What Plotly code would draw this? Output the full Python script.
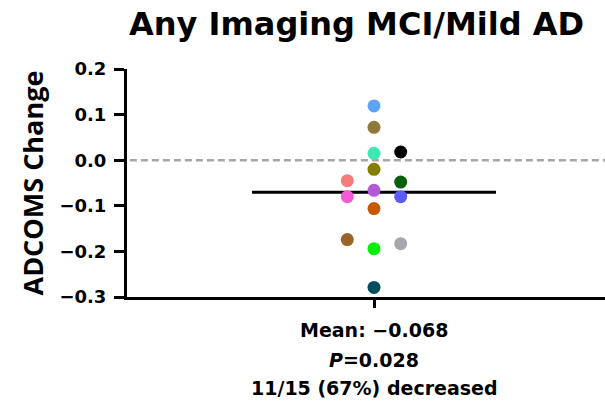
import numpy as np
import plotly.graph_objects as go

# ---------------- data ----------------
values = [0.119, 0.072, 0.015, 0.018, -0.020, -0.048, -0.045, -0.066,
          -0.080, -0.080, -0.106, -0.194, -0.183, -0.174, -0.279]
point_colors = ["#5BA4F8", "#8C7B3C", "#3EE8B2", "#000000", "#857D00",
                "#0A5F0A", "#F57A7A", "#B35BD6", "#5B5BFA", "#F55AD4",
                "#C45A00", "#00F000", "#A7A7AB", "#9A6426", "#004D5E"]
y_ticks = [-0.3, -0.2, -0.1, 0.0, 0.1, 0.2]
title_text = "Any Imaging MCI/Mild AD"
y_title = "ADCOMS Change"
stat_lines = ["Mean: \u22120.068", "<i>P</i>=0.028", "11/15 (67%) decreased"]

# ---------------- layout constants ----------------
W, H = 605, 410
M_L, M_R, M_T, M_B = 127, 0, 69, 113
plot_w = W - M_L - M_R
plot_h = H - M_T - M_B
y_range = [-0.3, 0.2]
px_per_unit = plot_h / (y_range[1] - y_range[0])
MARKER = 13
SLOT_PX = 26.7
CENTER_PX = 374
x_range = [-(CENTER_PX - M_L) / SLOT_PX, (W - M_R - CENTER_PX) / SLOT_PX]
MEAN_HALF = 122 / SLOT_PX

FONT_WIDE = "DejaVu Sans"


def swarm(vals, thresh, order=(0, 1, -1)):
    placed = []
    for v in vals:
        for s in order:
            if all(not (ps == s and abs(pv - v) < thresh) for pv, ps in placed):
                break
        placed.append((v, s))
    return [s for _, s in placed]


slots = swarm(values, (MARKER + 1) / px_per_unit)
mean_val = float(np.mean(values))

fig = go.Figure()

# zero reference line
fig.add_shape(type="line", xref="paper", yref="y", x0=0.006, x1=1, y0=0, y1=0,
              line=dict(color="#A6A6A6", width=2.5, dash="7px,4px"), layer="below")

# mean line
fig.add_trace(go.Scatter(x=[-MEAN_HALF, MEAN_HALF], y=[mean_val, mean_val],
                         mode="lines", line=dict(color="black", width=3),
                         hoverinfo="skip", showlegend=False))

# points
fig.add_trace(go.Scatter(x=slots, y=values, mode="markers",
                         marker=dict(size=MARKER, color=point_colors, line=dict(width=0)),
                         showlegend=False))

fig.update_layout(
    width=W, height=H, autosize=False,
    margin=dict(l=M_L, r=M_R, t=M_T, b=M_B, pad=0),
    paper_bgcolor="white", plot_bgcolor="white",
    showlegend=False,
    xaxis=dict(range=x_range, showgrid=False, zeroline=False,
               showline=True, linecolor="black", linewidth=3,
               tickmode="array", tickvals=[0], ticktext=[""],
               ticks="outside", ticklen=8, tickwidth=2.5, tickcolor="black"),
    yaxis=dict(range=y_range, showgrid=False, zeroline=False,
               showline=True, linecolor="black", linewidth=3,
               tickmode="array", tickvals=y_ticks, tickformat=".1f",
               ticks="outside", ticklen=10, tickwidth=3, tickcolor="black",
               ticklabelstandoff=4,
               tickfont=dict(family=FONT_WIDE, size=18, color="black", weight="bold")),
)

annots = []
annots.append(dict(text="<b>" + title_text + "</b>", xref="paper", yref="paper",
                   x=(356 - M_L) / plot_w, y=(M_T + plot_h - 24) / plot_h,
                   xanchor="center", yanchor="middle", showarrow=False,
                   font=dict(family=FONT_WIDE, size=32, color="black")))
annots.append(dict(text="<b>" + y_title + "</b>", xref="paper", yref="paper",
                   x=(31.5 - M_L) / plot_w, y=0.5, textangle=-90,
                   xanchor="center", yanchor="middle", showarrow=False,
                   font=dict(family="Open Sans", size=27, color="black")))
for line, cy in zip(stat_lines, [330, 360, 388]):
    annots.append(dict(text="<b>" + line + "</b>", xref="x", yref="paper",
                       x=0, y=(M_T + plot_h - cy) / plot_h,
                       xanchor="center", yanchor="middle", showarrow=False,
                       font=dict(family=FONT_WIDE, size=19, color="black")))
fig.update_layout(annotations=annots)

fig.write_html("out.html")
